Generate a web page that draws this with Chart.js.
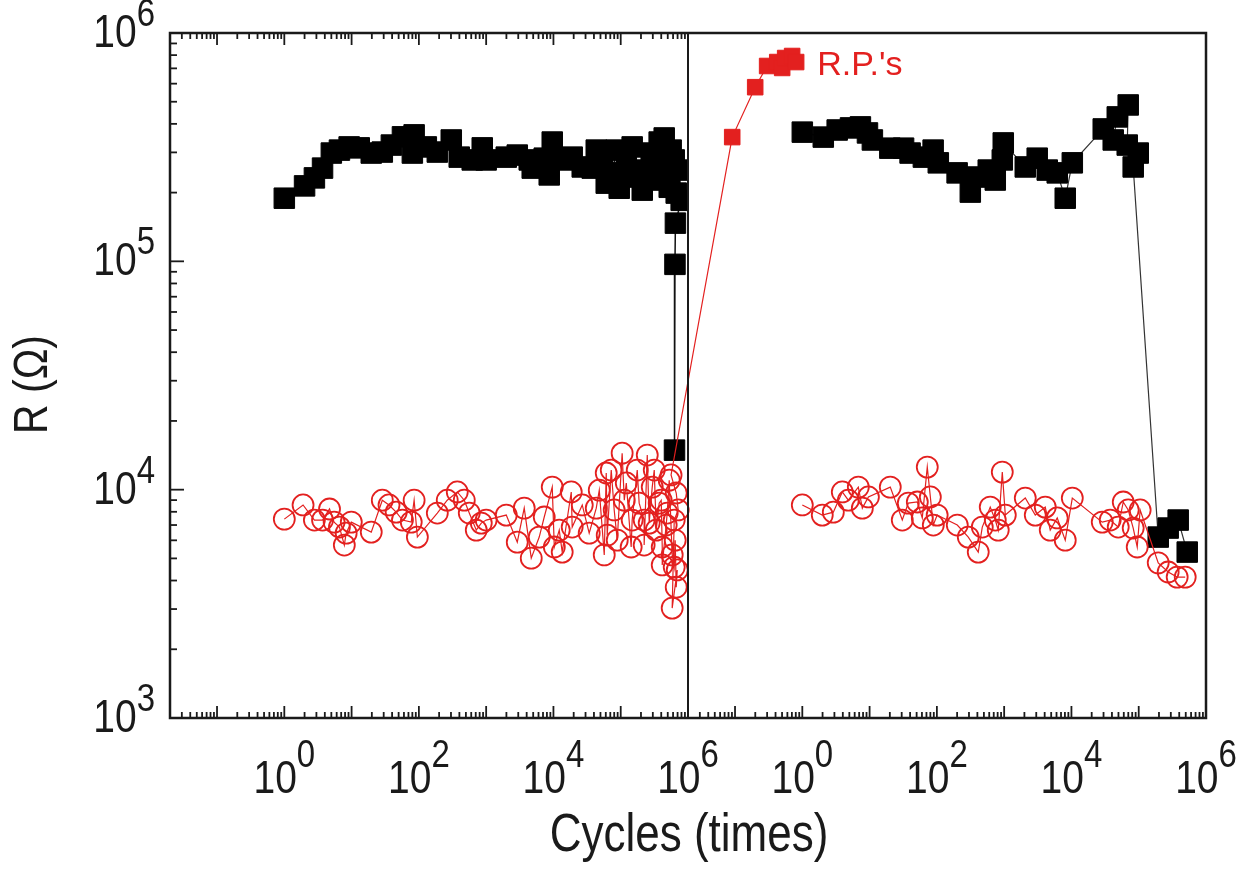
<!DOCTYPE html>
<html>
<head>
<meta charset="utf-8">
<script src="https://cdn.jsdelivr.net/npm/chart.js"></script>
<style>
  html, body { margin: 0; padding: 0; background: #fff; }
</style>
</head>
<body>
<canvas id="myChart" width="1249" height="875"></canvas>
<script>
'use strict';

// left panel, black squares (high resistance state)
let blackLeftCycles = [1, 2, 2.8, 3.7, 5, 6.6, 9.2, 13, 19.6, 28.6, 39, 57, 80, 85, 129, 188, 303, 398, 621, 875,
  1000, 1990, 2900, 4370, 4840, 7300, 8660, 9600, 13500, 19000, 26800, 37700, 43300, 53100, 60900, 74800, 85700, 95000,
  121000, 134000, 148000, 188000, 209000, 239000, 284000, 315000, 373000, 400000, 443000, 474000, 526000, 562000,
  624000, 668000, 740000, 792000, 650000, 640000, 630000];
let blackLeftR = [1.89e5, 2.14e5, 2.32e5, 2.56e5, 2.98e5, 3.07e5, 3.17e5, 3.14e5, 2.98e5, 3.01e5, 3.23e5, 3.51e5, 2.98e5,
  3.58e5, 3.17e5, 3.01e5, 3.40e5, 2.86e5, 2.78e5, 3.14e5, 2.78e5, 2.86e5, 2.92e5, 2.78e5, 2.56e5, 2.83e5, 2.39e5, 3.33e5,
  2.78e5, 2.86e5, 2.59e5, 2.56e5, 3.07e5, 2.78e5, 2.20e5, 2.44e5, 3.07e5, 2.09e5, 2.78e5, 2.39e5, 3.17e5, 2.34e5, 2.05e5,
  2.51e5, 2.98e5, 2.27e5, 3.33e5, 2.39e5, 3.47e5, 2.51e5, 2.11e5, 3.07e5, 2.78e5, 1.99e5, 2.51e5, 1.85e5, 1.47e5, 9.7e4,
  1.49e4];

// left panel, red circles (low resistance state)
let redLeftCycles = [1, 1.9, 2.8, 3.7, 4.7, 5.5, 6.6, 7.8, 8.3, 9.9, 19.6, 28.6, 36, 46, 57, 77, 85, 95, 188, 264, 372,
  473, 561, 713, 846, 1000, 1990, 2900, 3680, 4680, 6150, 7300, 9600, 10300, 12200, 13500, 18400, 19000, 26800, 34000,
  43300, 48000, 56900, 60900, 63000, 72300, 80000, 88800, 105000, 113000, 121000, 143000, 148000, 176000, 188000,
  223000, 223000, 248000, 265000, 294000, 315000, 337000, 373000, 400000, 414000, 414000, 474000, 491000, 526000,
  582000, 624000, 645000, 668000, 692000, 582000, 624000, 715000, 668000, 560000];
let redLeftR = [7430, 8570, 7360, 7360, 8230, 7210, 6860, 5720, 6450, 7210, 6520, 8990, 8570, 7970, 7360, 7210, 8990,
  6200, 7900, 8990, 9770, 8990, 7900, 6650, 7140, 7360, 7740, 5890, 8300, 5010, 6200, 7590, 10260, 5610, 6650, 5330,
  9770, 6860, 8570, 6450, 8300, 9950, 5180, 11830, 6320, 12190, 8150, 6010, 14450, 8990, 10700, 5610, 7360, 12190,
  8730, 7360, 5720, 14180, 7140, 10260, 12190, 6650, 8730, 8990, 5610, 4680, 7000, 7900, 11000, 5180, 4580, 6010,
  3740, 4450, 3030, 7360, 8150, 9670, 11600];

// R.P.'s (red squares), counted on past the end of the left axis
let rpCycles = [4.54e6, 9.97e6, 1.50e7, 2.12e7, 2.51e7, 2.78e7, 3.53e7, 4.05e7];
let rpR = [3.50e5, 5.79e5, 7.17e5, 7.46e5, 7.03e5, 7.77e5, 7.93e5, 7.46e5];

// right panel, black squares
let blackRightCycles = [1, 2.05, 3.3, 5.2, 7.3, 9.3, 11, 20, 32, 40, 63, 88, 105, 200, 314, 398, 580, 738, 938, 970,
  2060, 3100, 4370, 6150, 8090, 10300, 29700, 41800, 48000, 69800, 67500, 98400, 82800, 195000, 274000, 386000, 526000];
let blackRightR = [3.68e5, 3.50e5, 3.76e5, 3.84e5, 3.88e5, 3.65e5, 3.40e5, 3.13e5, 3.13e5, 2.98e5, 2.86e5, 3.07e5,
  2.70e5, 2.44e5, 2.01e5, 2.34e5, 2.51e5, 2.27e5, 2.78e5, 3.30e5, 2.59e5, 2.83e5, 2.51e5, 2.44e5, 1.89e5, 2.70e5,
  3.80e5, 3.40e5, 4.29e5, 4.84e5, 3.23e5, 2.98e5, 2.59e5, 6200, 6790, 7360, 5330];

// right panel, red circles
let redRightCycles = [1, 1.98, 2.89, 3.93, 4.83, 6.8, 7.8, 9.6, 20.3, 30.6, 37.6, 51.2, 60.7, 72, 80, 88.5, 101, 201,
  293, 412, 473, 621, 738, 817, 938, 1040, 2060, 2900, 4080, 4840, 6150, 8090, 10300, 28700, 37700, 49600, 58900,
  69800, 82800, 95000, 105000, 195000, 274000, 373000, 491000];
let redRightR = [8570, 7740, 7970, 9770, 8990, 10260, 8300, 9290, 10260, 7360, 8730, 8830, 7520, 12560, 9290, 7000,
  7740, 7000, 6200, 5330, 6860, 8390, 7360, 6650, 11940, 7740, 9190, 7740, 8390, 6650, 7520, 6010, 9190, 7210, 7360,
  6860, 8830, 8150, 6790, 5610, 8150, 4780, 4360, 4140, 4140];

let xMin = 0.02;
let xMax = 1e6;
let yMin = 1e3;
let yMax = 1e6;
let xTickExps = [0, 2, 4, 6];
let yTickExps = [3, 4, 5, 6];
let xTitle = 'Cycles (times)';
let yTitle = 'R (\u03A9)';
let rpLabel = 'R.P.\'s';

const FONT = '"Liberation Sans", Arial, Helvetica, sans-serif';
const RED = '#e3201f';
const INK = '#1a1a1a';

function toPoints(xs, ys) {
  return xs.map((x, i) => ({ x: x, y: ys[i] }));
}

// 1..9 x 10^n steps inside the axis range
function logSteps(min, max) {
  let steps = [];
  for (let e = Math.floor(Math.log10(min)); e <= Math.ceil(Math.log10(max)); e++) {
    for (let m = 1; m <= 9; m++) {
      let v = m * Math.pow(10, e);
      if (v >= min * 0.999 && v <= max * 1.001) {
        steps.push({ v: v, major: m === 1 });
      }
    }
  }
  return steps;
}

function tallText(ctx, text, x, y, stretch) {
  ctx.save();
  ctx.translate(x, y);
  ctx.scale(1, stretch);
  ctx.fillText(text, 0, 0);
  ctx.restore();
}

function drawPower(ctx, exp, x, baseY, supY, align) {
  ctx.font = '39px ' + FONT;
  let wBase = ctx.measureText('10').width;
  ctx.font = '33px ' + FONT;
  let wSup = ctx.measureText(String(exp)).width;
  let total = wBase + wSup;
  let start = align === 'right' ? x - total : x - total / 2;
  ctx.textAlign = 'left';
  ctx.textBaseline = 'alphabetic';
  ctx.font = '39px ' + FONT;
  tallText(ctx, '10', start, baseY, 1.2);
  ctx.font = '33px ' + FONT;
  tallText(ctx, String(exp), start + wBase, supY, 1.2);
}

function tick(ctx, x1, y1, x2, y2) {
  ctx.beginPath();
  ctx.moveTo(x1, y1);
  ctx.lineTo(x2, y2);
  ctx.stroke();
}

// frame, inward ticks, power-of-ten labels and titles
const axisPainter = {
  id: 'axisPainter',
  afterDatasetsDraw(chart) {
    const ctx = chart.ctx;
    const area = chart.chartArea;
    const xl = chart.scales.x;
    const xr = chart.scales.x2;
    const ys = chart.scales.y;

    ctx.save();
    ctx.strokeStyle = INK;
    ctx.fillStyle = INK;
    ctx.lineWidth = 2.5;
    ctx.strokeRect(area.left, area.top, area.right - area.left, area.bottom - area.top);
    ctx.lineWidth = 2;
    tick(ctx, xl.right, area.top, xl.right, area.bottom);

    ctx.lineWidth = 1.8;
    logSteps(xl.min, xl.max).forEach(s => {
      let px = xl.getPixelForValue(s.v);
      let len = s.major ? 12 : 6;
      tick(ctx, px, area.bottom, px, area.bottom - len);
      tick(ctx, px, area.top, px, area.top + len);
    });
    logSteps(xr.min, xr.max).forEach(s => {
      let px = xr.getPixelForValue(s.v);
      let len = s.major ? 12 : 6;
      tick(ctx, px, area.bottom, px, area.bottom - len);
    });
    logSteps(ys.min, ys.max).forEach(s => {
      let py = ys.getPixelForValue(s.v);
      let len = s.major ? 14 : 7;
      tick(ctx, area.left, py, area.left + len, py);
    });

    [xl, xr].forEach(scale => {
      xTickExps.forEach(e => {
        drawPower(ctx, e, scale.getPixelForValue(Math.pow(10, e)), area.bottom + 75, area.bottom + 49, 'center');
      });
    });
    yTickExps.forEach(e => {
      let py = ys.getPixelForValue(Math.pow(10, e));
      drawPower(ctx, e, area.left - 15, py + 14, py - 7, 'right');
    });

    // axis titles
    ctx.textAlign = 'center';
    ctx.font = '44px ' + FONT;
    tallText(ctx, xTitle, (area.left + area.right) / 2 + 1, area.bottom + 133, 1.2);
    ctx.save();
    ctx.translate(47, (area.top + area.bottom) / 2 + 9);
    ctx.rotate(-Math.PI / 2);
    ctx.font = '41px ' + FONT;
    tallText(ctx, yTitle, 0, 0, 1.15);
    ctx.restore();

    // label beside the R.P. points
    let lastRp = rpCycles.length - 1;
    ctx.fillStyle = RED;
    ctx.textAlign = 'left';
    ctx.font = '34px ' + FONT;
    ctx.fillText(rpLabel, xl.getPixelForValue(rpCycles[lastRp]) + 21, ys.getPixelForValue(rpR[lastRp]) + 13);
    ctx.restore();
  }
};

let redLeftCount = redLeftCycles.length;

const chartConfig = {
  type: 'scatter',
  data: {
    datasets: [
      {
        label: 'LRS before R.P.',
        xAxisID: 'x',
        yAxisID: 'y',
        data: toPoints(redLeftCycles.concat(rpCycles), redLeftR.concat(rpR)),
        showLine: true,
        borderColor: RED,
        borderWidth: 1.2,
        clip: false,
        pointStyle: c => c.dataIndex >= redLeftCount ? 'rect' : 'circle',
        pointRadius: c => c.dataIndex >= redLeftCount ? 11 : 10.5,
        pointBackgroundColor: c => c.dataIndex >= redLeftCount ? RED : 'rgba(0,0,0,0)',
        pointBorderColor: RED,
        pointBorderWidth: c => c.dataIndex >= redLeftCount ? 1 : 1.8
      },
      {
        label: 'LRS after R.P.',
        xAxisID: 'x2',
        yAxisID: 'y',
        data: toPoints(redRightCycles, redRightR),
        showLine: true,
        borderColor: RED,
        borderWidth: 1.2,
        pointStyle: 'circle',
        pointRadius: 10.5,
        pointBackgroundColor: 'rgba(0,0,0,0)',
        pointBorderColor: RED,
        pointBorderWidth: 1.8
      },
      {
        label: 'HRS before R.P.',
        xAxisID: 'x',
        yAxisID: 'y',
        data: toPoints(blackLeftCycles, blackLeftR),
        showLine: true,
        borderColor: '#111',
        borderWidth: 1.5,
        pointStyle: 'rect',
        pointRadius: 14.5,
        pointBackgroundColor: '#000',
        pointBorderColor: '#000',
        pointBorderWidth: 1
      },
      {
        label: 'HRS after R.P.',
        xAxisID: 'x2',
        yAxisID: 'y',
        data: toPoints(blackRightCycles, blackRightR),
        showLine: true,
        borderColor: '#333',
        borderWidth: 1.2,
        pointStyle: 'rect',
        pointRadius: 14.5,
        pointBackgroundColor: '#000',
        pointBorderColor: '#000',
        pointBorderWidth: 1
      }
    ]
  },
  options: {
    responsive: false,
    animation: false,
    devicePixelRatio: 1,
    layout: { padding: { left: 0, right: 43, top: 33, bottom: 0 } },
    plugins: {
      legend: { display: false },
      tooltip: { enabled: false }
    },
    scales: {
      x: {
        type: 'logarithmic',
        position: 'bottom',
        stack: 'cycles',
        stackWeight: 1,
        min: xMin,
        max: xMax,
        ticks: { display: false },
        grid: { display: false },
        border: { display: false },
        afterFit: s => { s.height = 157; }
      },
      x2: {
        type: 'logarithmic',
        position: 'bottom',
        stack: 'cycles',
        stackWeight: 1,
        min: xMin,
        max: xMax,
        ticks: { display: false },
        grid: { display: false },
        border: { display: false },
        afterFit: s => { s.height = 157; }
      },
      y: {
        type: 'logarithmic',
        position: 'left',
        min: yMin,
        max: yMax,
        ticks: { display: false },
        grid: { display: false },
        border: { display: false },
        afterFit: s => { s.width = 170; }
      }
    }
  },
  plugins: [axisPainter]
};

let canvasChart = document.getElementById('myChart').getContext('2d');
const myChart = new Chart(canvasChart, chartConfig);
</script>
</body>
</html>
